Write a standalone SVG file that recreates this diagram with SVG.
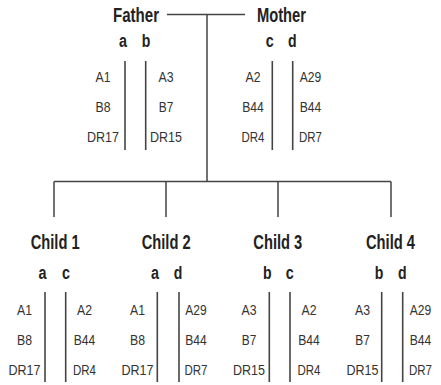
<svg xmlns="http://www.w3.org/2000/svg" width="441" height="385" viewBox="0 0 441 385">
<style>
.h{font-family:"Liberation Sans",Arial,sans-serif;font-weight:bold;font-size:20px;fill:#222}
.l{font-family:"Liberation Sans",Arial,sans-serif;font-weight:bold;font-size:18px;fill:#222;text-anchor:middle}
.t{font-family:"Liberation Sans",Arial,sans-serif;font-size:14.5px;fill:#333;text-anchor:middle}
.bar{stroke:#444;stroke-width:1.6}
.c{stroke:#444;stroke-width:1.5;fill:none}
</style>
<rect width="441" height="385" fill="#fff"/>
<g id="connectors">
<path class="c" d="M167 14.5H245M207 14.5V181.5M54 181.5H391M54 181.5V217M166 181.5V217M278 181.5V217M391 181.5V217"/>
</g>
<g id="father">
<text class="h" x="113" y="21.7" textLength="46" lengthAdjust="spacingAndGlyphs">Father</text>
<text class="l" x="123" y="47.3" textLength="8" lengthAdjust="spacingAndGlyphs">a</text>
<text class="l" x="146" y="47.3" textLength="8.6" lengthAdjust="spacingAndGlyphs">b</text>
<line class="bar" x1="125" y1="61" x2="125" y2="150"/>
<line class="bar" x1="145.7" y1="61" x2="145.7" y2="150"/>
<text class="t" x="103" y="81.5" textLength="15" lengthAdjust="spacingAndGlyphs">A1</text>
<text class="t" x="103" y="111.5" textLength="15" lengthAdjust="spacingAndGlyphs">B8</text>
<text class="t" x="103" y="141.5" textLength="32" lengthAdjust="spacingAndGlyphs">DR17</text>
<text class="t" x="166" y="81.5" textLength="15" lengthAdjust="spacingAndGlyphs">A3</text>
<text class="t" x="166" y="111.5" textLength="14.5" lengthAdjust="spacingAndGlyphs">B7</text>
<text class="t" x="166" y="141.5" textLength="32" lengthAdjust="spacingAndGlyphs">DR15</text>
</g>
<g id="mother">
<text class="h" x="257" y="21.7" textLength="49" lengthAdjust="spacingAndGlyphs">Mother</text>
<text class="l" x="269.7" y="47.3" textLength="8" lengthAdjust="spacingAndGlyphs">c</text>
<text class="l" x="292.2" y="47.3" textLength="8.6" lengthAdjust="spacingAndGlyphs">d</text>
<line class="bar" x1="272.3" y1="61" x2="272.3" y2="150"/>
<line class="bar" x1="292.7" y1="61" x2="292.7" y2="150"/>
<text class="t" x="253" y="81.5" textLength="15" lengthAdjust="spacingAndGlyphs">A2</text>
<text class="t" x="253" y="111.5" textLength="21.5" lengthAdjust="spacingAndGlyphs">B44</text>
<text class="t" x="253" y="141.5" textLength="23" lengthAdjust="spacingAndGlyphs">DR4</text>
<text class="t" x="310.5" y="81.5" textLength="21.5" lengthAdjust="spacingAndGlyphs">A29</text>
<text class="t" x="310.5" y="111.5" textLength="21.5" lengthAdjust="spacingAndGlyphs">B44</text>
<text class="t" x="310.5" y="141.5" textLength="23" lengthAdjust="spacingAndGlyphs">DR7</text>
</g>
<g id="child1">
<text class="h" x="30.7" y="249" textLength="49" lengthAdjust="spacingAndGlyphs">Child 1</text>
<text class="l" x="42.5" y="279" textLength="8" lengthAdjust="spacingAndGlyphs">a</text>
<text class="l" x="66" y="279" textLength="8" lengthAdjust="spacingAndGlyphs">c</text>
<line class="bar" x1="45" y1="292" x2="45" y2="382"/>
<line class="bar" x1="65.7" y1="292" x2="65.7" y2="382"/>
<text class="t" x="24.5" y="315" textLength="15" lengthAdjust="spacingAndGlyphs">A1</text>
<text class="t" x="24.5" y="345" textLength="15" lengthAdjust="spacingAndGlyphs">B8</text>
<text class="t" x="24.5" y="375" textLength="32" lengthAdjust="spacingAndGlyphs">DR17</text>
<text class="t" x="84.5" y="315" textLength="15" lengthAdjust="spacingAndGlyphs">A2</text>
<text class="t" x="84.5" y="345" textLength="21.5" lengthAdjust="spacingAndGlyphs">B44</text>
<text class="t" x="84.5" y="375" textLength="23" lengthAdjust="spacingAndGlyphs">DR4</text>
</g>
<g id="child2">
<text class="h" x="141.7" y="249" textLength="49" lengthAdjust="spacingAndGlyphs">Child 2</text>
<text class="l" x="155" y="279" textLength="8" lengthAdjust="spacingAndGlyphs">a</text>
<text class="l" x="178" y="279" textLength="8.6" lengthAdjust="spacingAndGlyphs">d</text>
<line class="bar" x1="157.3" y1="292" x2="157.3" y2="382"/>
<line class="bar" x1="179" y1="292" x2="179" y2="382"/>
<text class="t" x="137.5" y="315" textLength="15" lengthAdjust="spacingAndGlyphs">A1</text>
<text class="t" x="137.5" y="345" textLength="15" lengthAdjust="spacingAndGlyphs">B8</text>
<text class="t" x="137.5" y="375" textLength="32" lengthAdjust="spacingAndGlyphs">DR17</text>
<text class="t" x="196" y="315" textLength="21.5" lengthAdjust="spacingAndGlyphs">A29</text>
<text class="t" x="196" y="345" textLength="21.5" lengthAdjust="spacingAndGlyphs">B44</text>
<text class="t" x="196" y="375" textLength="23" lengthAdjust="spacingAndGlyphs">DR7</text>
</g>
<g id="child3">
<text class="h" x="253.3" y="249" textLength="49" lengthAdjust="spacingAndGlyphs">Child 3</text>
<text class="l" x="267.3" y="279" textLength="8.6" lengthAdjust="spacingAndGlyphs">b</text>
<text class="l" x="289.7" y="279" textLength="8" lengthAdjust="spacingAndGlyphs">c</text>
<line class="bar" x1="269.3" y1="292" x2="269.3" y2="382"/>
<line class="bar" x1="290" y1="292" x2="290" y2="382"/>
<text class="t" x="249" y="315" textLength="15" lengthAdjust="spacingAndGlyphs">A3</text>
<text class="t" x="249" y="345" textLength="14.5" lengthAdjust="spacingAndGlyphs">B7</text>
<text class="t" x="249" y="375" textLength="32" lengthAdjust="spacingAndGlyphs">DR15</text>
<text class="t" x="309" y="315" textLength="15" lengthAdjust="spacingAndGlyphs">A2</text>
<text class="t" x="309" y="345" textLength="21.5" lengthAdjust="spacingAndGlyphs">B44</text>
<text class="t" x="309" y="375" textLength="23" lengthAdjust="spacingAndGlyphs">DR4</text>
</g>
<g id="child4">
<text class="h" x="366" y="249" textLength="49" lengthAdjust="spacingAndGlyphs">Child 4</text>
<text class="l" x="379" y="279" textLength="8.6" lengthAdjust="spacingAndGlyphs">b</text>
<text class="l" x="402.2" y="279" textLength="8.6" lengthAdjust="spacingAndGlyphs">d</text>
<line class="bar" x1="381.7" y1="292" x2="381.7" y2="382"/>
<line class="bar" x1="402.7" y1="292" x2="402.7" y2="382"/>
<text class="t" x="362.5" y="315" textLength="15" lengthAdjust="spacingAndGlyphs">A3</text>
<text class="t" x="362.5" y="345" textLength="14.5" lengthAdjust="spacingAndGlyphs">B7</text>
<text class="t" x="362.5" y="375" textLength="32" lengthAdjust="spacingAndGlyphs">DR15</text>
<text class="t" x="420.5" y="315" textLength="21.5" lengthAdjust="spacingAndGlyphs">A29</text>
<text class="t" x="420.5" y="345" textLength="21.5" lengthAdjust="spacingAndGlyphs">B44</text>
<text class="t" x="420.5" y="375" textLength="23" lengthAdjust="spacingAndGlyphs">DR7</text>
</g>
</svg>
